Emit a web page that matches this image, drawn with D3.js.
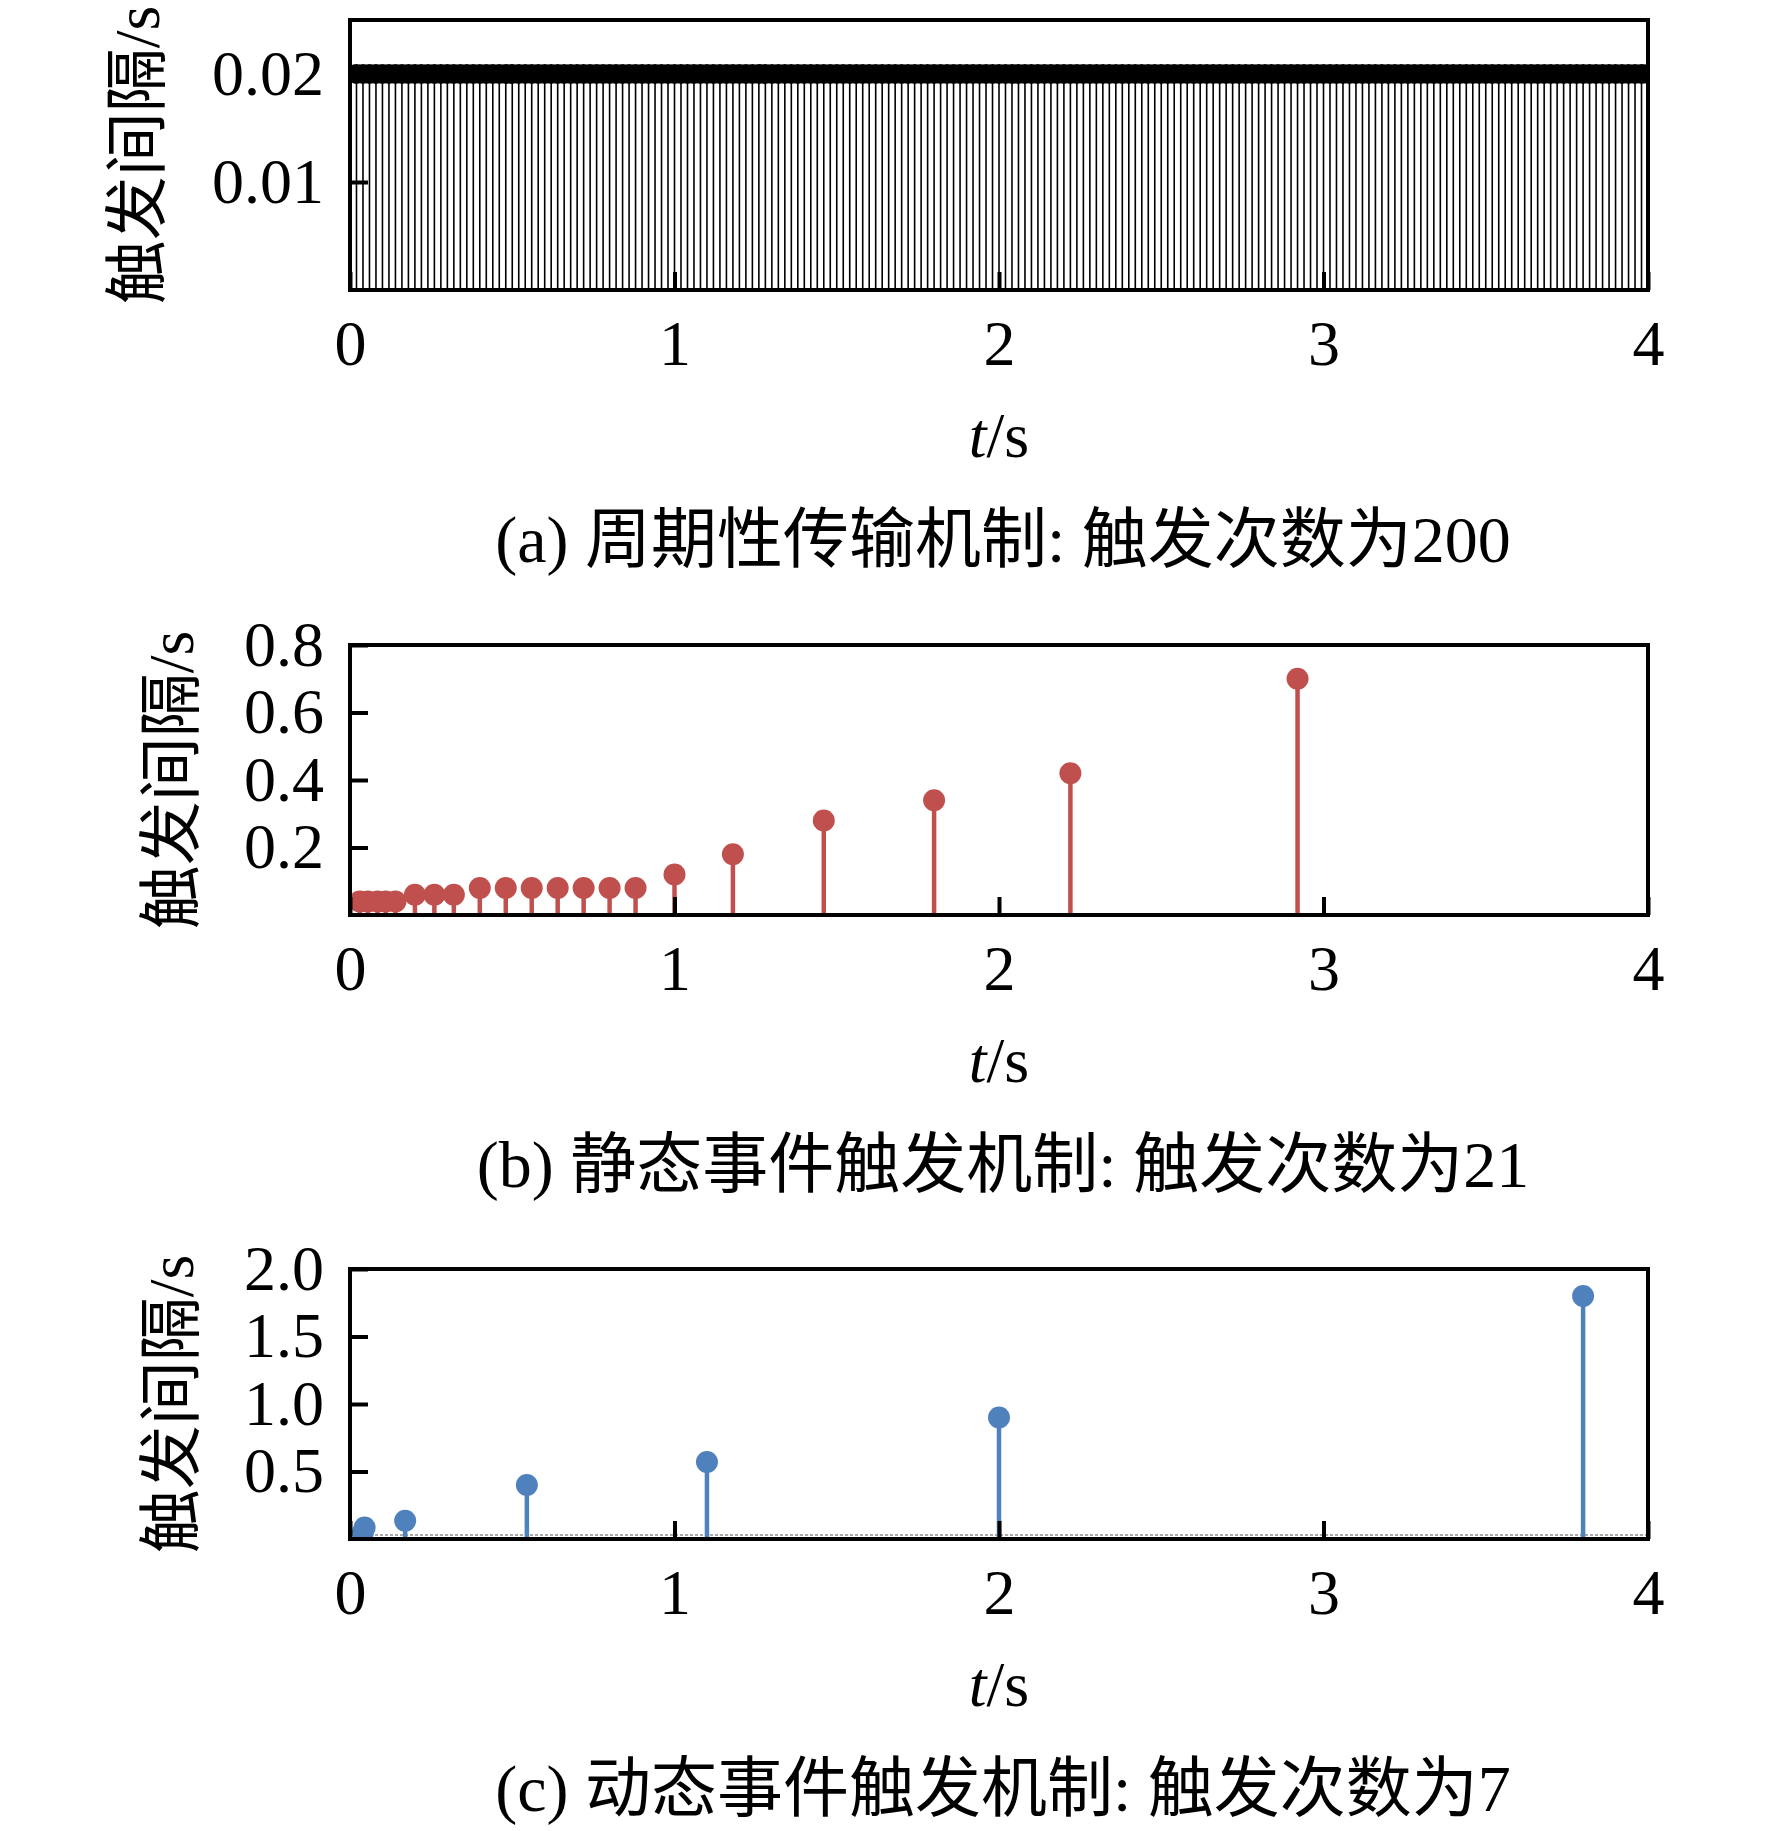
<!DOCTYPE html>
<html>
<head>
<meta charset="utf-8">
<script src="https://cdn.jsdelivr.net/npm/d3@7.9.0/dist/d3.min.js"></script>
<style>
  body { margin: 0; background: #fff; }
  svg { display: block; }
  text { font-family: "Liberation Serif", "Noto Sans CJK SC", serif; fill: #000; }
</style>
</head>
<body>
<svg id="chart" width="1772" height="1831"></svg>
<script>
// (a) periodic transmission: interval of each of the 200 triggers (s)
const periodicIntervals = [
  0.02,0.02,0.02,0.02,0.02,0.02,0.02,0.02,0.02,0.02,
  0.02,0.02,0.02,0.02,0.02,0.02,0.02,0.02,0.02,0.02,
  0.02,0.02,0.02,0.02,0.02,0.02,0.02,0.02,0.02,0.02,
  0.02,0.02,0.02,0.02,0.02,0.02,0.02,0.02,0.02,0.02,
  0.02,0.02,0.02,0.02,0.02,0.02,0.02,0.02,0.02,0.02,
  0.02,0.02,0.02,0.02,0.02,0.02,0.02,0.02,0.02,0.02,
  0.02,0.02,0.02,0.02,0.02,0.02,0.02,0.02,0.02,0.02,
  0.02,0.02,0.02,0.02,0.02,0.02,0.02,0.02,0.02,0.02,
  0.02,0.02,0.02,0.02,0.02,0.02,0.02,0.02,0.02,0.02,
  0.02,0.02,0.02,0.02,0.02,0.02,0.02,0.02,0.02,0.02,
  0.02,0.02,0.02,0.02,0.02,0.02,0.02,0.02,0.02,0.02,
  0.02,0.02,0.02,0.02,0.02,0.02,0.02,0.02,0.02,0.02,
  0.02,0.02,0.02,0.02,0.02,0.02,0.02,0.02,0.02,0.02,
  0.02,0.02,0.02,0.02,0.02,0.02,0.02,0.02,0.02,0.02,
  0.02,0.02,0.02,0.02,0.02,0.02,0.02,0.02,0.02,0.02,
  0.02,0.02,0.02,0.02,0.02,0.02,0.02,0.02,0.02,0.02,
  0.02,0.02,0.02,0.02,0.02,0.02,0.02,0.02,0.02,0.02,
  0.02,0.02,0.02,0.02,0.02,0.02,0.02,0.02,0.02,0.02,
  0.02,0.02,0.02,0.02,0.02,0.02,0.02,0.02,0.02,0.02,
  0.02,0.02,0.02,0.02,0.02,0.02,0.02,0.02,0.02,0.02
];
// trigger instant = running sum of the intervals
const periodicTimes = Array.from(d3.cumsum(periodicIntervals));

// (b) static event-triggered: 21 triggers
const staticTimes = [0.03, 0.055, 0.085, 0.11, 0.14, 0.20, 0.26, 0.32, 0.40, 0.48, 0.56,
                     0.64, 0.72, 0.80, 0.88, 1.00, 1.18, 1.46, 1.80, 2.22, 2.92];
const staticIntervals = [0.04, 0.04, 0.04, 0.04, 0.04, 0.06, 0.06, 0.06, 0.08, 0.08, 0.08,
                         0.08, 0.08, 0.08, 0.08, 0.12, 0.18, 0.28, 0.34, 0.42, 0.70];

// (c) dynamic event-triggered: 7 triggers (first two sit near t = 0)
const dynamicTimes = [0.04, 0.045, 0.17, 0.545, 1.10, 2.00, 3.80];
const dynamicIntervals = [0.05, 0.085, 0.135, 0.40, 0.57, 0.90, 1.80];

const xTicks = [0, 1, 2, 3, 4];
const yLabel = "触发间隔/s";
const captions = [
  "(a) 周期性传输机制: 触发次数为200",
  "(b) 静态事件触发机制: 触发次数为21",
  "(c) 动态事件触发机制: 触发次数为7"
];

const panels = [
  { top: 20, times: periodicTimes, values: periodicIntervals, yMax: 0.025,
    yTicks: [0.01, 0.02], fmt: d3.format(".2f"), color: "#000", stemW: 1.6, r: 10,
    labelX: 137, baseline: false },
  { top: 645, times: staticTimes, values: staticIntervals, yMax: 0.8,
    yTicks: [0.2, 0.4, 0.6, 0.8], fmt: d3.format(".1f"), color: "#C0504D", stemW: 4.5, r: 11,
    labelX: 171, baseline: false },
  { top: 1269, times: dynamicTimes, values: dynamicIntervals, yMax: 2.0,
    yTicks: [0.5, 1.0, 1.5, 2.0], fmt: d3.format(".1f"), color: "#4F81BD", stemW: 4.5, r: 11,
    labelX: 171, baseline: true }
];

const svg = d3.select("#chart");
svg.append("rect").attr("width", 1772).attr("height", 1831).attr("fill", "#fff");

const left = 350, right = 1648, h = 270;
const fs = 64;

panels.forEach((p, i) => {
  const x = d3.scaleLinear().domain([0, 4]).range([left, right]);
  const y = d3.scaleLinear().domain([0, p.yMax]).range([p.top + h, p.top]);
  const g = svg.append("g");

  svg.append("clipPath").attr("id", `clip${i}`)
    .append("rect")
    .attr("x", left).attr("y", p.top)
    .attr("width", right - left).attr("height", h);

  const plot = g.append("g").attr("clip-path", `url(#clip${i})`);

  if (p.baseline) {
    plot.append("line")
      .attr("x1", left).attr("x2", right)
      .attr("y1", y(0) - 4).attr("y2", y(0) - 4)
      .attr("stroke", "#aaa").attr("stroke-width", 2)
      .attr("stroke-dasharray", "3,2");
  }

  const pts = p.times.map((t, k) => ({ t, v: p.values[k] }));

  plot.selectAll("line.stem").data(pts).join("line")
    .attr("class", "stem")
    .attr("x1", d => x(d.t)).attr("x2", d => x(d.t))
    .attr("y1", y(0)).attr("y2", d => y(d.v))
    .attr("stroke", p.color)
    .attr("stroke-width", p.stemW);

  plot.selectAll("circle").data(pts).join("circle")
    .attr("cx", d => x(d.t)).attr("cy", d => y(d.v))
    .attr("r", p.r)
    .attr("fill", p.color);

  // inward ticks
  const xAxis = d3.axisBottom(x).tickValues(xTicks).tickSize(-18).tickPadding(30)
    .tickFormat(d3.format("d"));
  const ax = g.append("g").attr("transform", `translate(0,${p.top + h})`).call(xAxis);
  const yAxis = d3.axisLeft(y).tickValues(p.yTicks).tickSize(-18).tickPadding(26)
    .tickFormat(p.fmt);
  const ay = g.append("g").attr("transform", `translate(${left},0)`).call(yAxis);

  [ax, ay].forEach(a => {
    a.select(".domain").remove();
    a.selectAll(".tick line").attr("stroke", "#000").attr("stroke-width", 4);
    a.selectAll(".tick text").attr("font-size", fs)
      .attr("font-family", "Liberation Serif, serif");
  });

  g.append("rect")
    .attr("x", left).attr("y", p.top)
    .attr("width", right - left).attr("height", h)
    .attr("fill", "none").attr("stroke", "#000").attr("stroke-width", 4);

  // y label
  g.append("text")
    .attr("transform", `translate(${p.labelX},${p.top + h / 2}) rotate(-90)`)
    .attr("text-anchor", "middle")
    .attr("dominant-baseline", "central")
    .attr("font-size", fs)
    .text(yLabel);

  // x label t/s
  const xl = g.append("text")
    .attr("x", (left + right) / 2).attr("y", p.top + h + 167)
    .attr("text-anchor", "middle")
    .attr("font-size", fs);
  xl.append("tspan").attr("font-style", "italic").text("t");
  xl.append("tspan").text("/s");

  // caption
  g.append("text")
    .attr("x", 1003).attr("y", p.top + h + 272)
    .attr("text-anchor", "middle")
    .attr("font-size", 66)
    .text(captions[i]);
});
</script>
</body>
</html>
